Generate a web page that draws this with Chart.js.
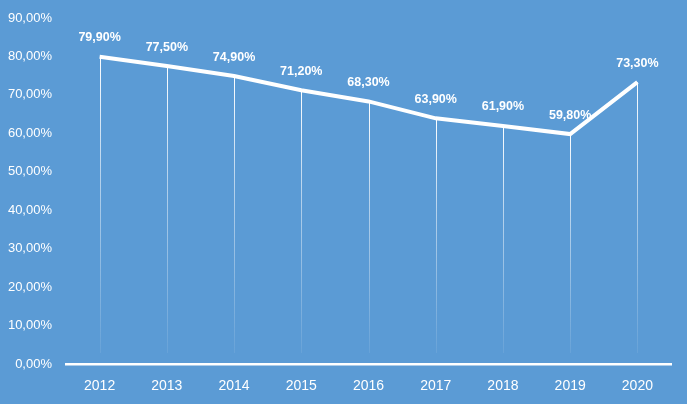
<!DOCTYPE html>
<html>
<head>
<meta charset="utf-8">
<script src="https://cdn.jsdelivr.net/npm/chart.js@4/dist/chart.umd.min.js"></script>
<style>
  html, body { margin: 0; padding: 0; background: #5b9bd5; }
  #wrap { width: 687px; height: 404px; }
</style>
</head>
<body>
<div id="wrap"><canvas id="myChart"></canvas></div>
<script>
var years = ['2012', '2013', '2014', '2015', '2016', '2017', '2018', '2019', '2020'];
var rates = [79.9, 77.5, 74.9, 71.2, 68.3, 63.9, 61.9, 59.8, 73.3];

function pct(v) {
  return v.toFixed(2).replace('.', ',') + '%';
}

// vertical drop lines from each point, fading out towards the axis
var dropLines = {
  id: 'dropLines',
  beforeDatasetsDraw: function(chart) {
    var ctx = chart.ctx;
    var bottom = chart.chartArea.bottom - 11;
    chart.getDatasetMeta(0).data.forEach(function(pt) {
      var g = ctx.createLinearGradient(0, pt.y, 0, bottom);
      g.addColorStop(0, 'rgba(255,255,255,1)');
      g.addColorStop(0.4, 'rgba(255,255,255,0.55)');
      g.addColorStop(1, 'rgba(255,255,255,0.08)');
      ctx.save();
      ctx.strokeStyle = g;
      ctx.lineWidth = 1;
      ctx.beginPath();
      ctx.moveTo(Math.round(pt.x) + 0.5, pt.y);
      ctx.lineTo(Math.round(pt.x) + 0.5, bottom);
      ctx.stroke();
      ctx.restore();
    });
  }
};

// value labels above the points
var valueLabels = {
  id: 'valueLabels',
  afterDatasetsDraw: function(chart) {
    var ctx = chart.ctx;
    ctx.save();
    ctx.fillStyle = '#ffffff';
    ctx.font = 'bold 12.5px "Liberation Sans", Arial, sans-serif';
    ctx.textAlign = 'center';
    ctx.textBaseline = 'middle';
    chart.getDatasetMeta(0).data.forEach(function(pt, i) {
      ctx.fillText(pct(rates[i]), pt.x, pt.y - 19);
    });
    ctx.restore();
  }
};

const ctx = document.getElementById('myChart').getContext('2d');
const myChart = new Chart(ctx, {
  type: 'line',
  data: {
    labels: years,
    datasets: [{
      label: 'Taxa',
      data: rates,
      borderColor: '#ffffff',
      borderWidth: 4,
      pointRadius: 0,
      tension: 0
    }]
  },
  options: {
    responsive: true,
    maintainAspectRatio: false,
    animation: false,
    layout: { padding: { top: 18, right: 16, left: 0, bottom: 0 } },
    plugins: {
      legend: { display: false },
      tooltip: { enabled: false }
    },
    scales: {
      x: {
        offset: true,
        grid: { display: false, drawTicks: false },
        border: { display: true, color: '#ffffff', width: 2.5 },
        ticks: {
          color: '#ffffff',
          padding: 14,
          font: { family: '"Liberation Sans", Arial, sans-serif', size: 14 }
        },
        afterFit: function(s) { s.height = 40; s.paddingLeft = 0; s.paddingRight = 0; }
      },
      y: {
        min: 0,
        max: 90,
        grid: { display: false, drawTicks: false },
        border: { display: false },
        ticks: {
          stepSize: 10,
          color: '#ffffff',
          padding: 14,
          font: { family: '"Liberation Sans", Arial, sans-serif', size: 13 },
          callback: function(v) { return pct(v); }
        },
        afterFit: function(s) { s.width = 66; s.paddingTop = 0; s.paddingBottom = 0; }
      }
    }
  },
  plugins: [dropLines, valueLabels]
});
</script>
</body>
</html>
